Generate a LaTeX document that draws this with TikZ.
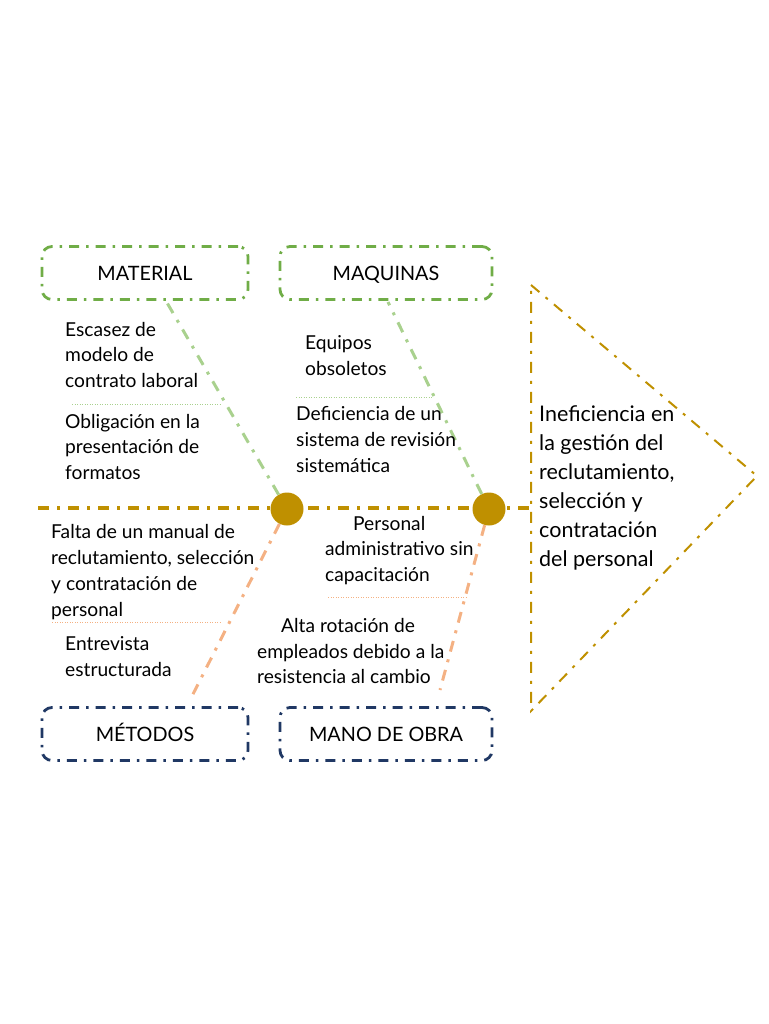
\documentclass[tikz,border=0pt]{standalone}
\usepackage{fontspec}
\setmainfont{Lato}
\definecolor{gold}{HTML}{BF9000}
\definecolor{boxgreen}{HTML}{70AD47}
\definecolor{lightgreen}{HTML}{A9D18E}
\definecolor{lightorange}{HTML}{F4B183}
\definecolor{navy}{HTML}{203864}
\begin{document}
\begin{tikzpicture}[x=1pt,y=-1pt,
  dashdot/.style={dash pattern=on 11pt off 8pt on 3pt off 8pt},
  catbox/.style={draw, line width=2.8pt, rounded corners=10pt, dash pattern=on 10pt off 7pt on 2.5pt off 7pt,
     minimum width=206pt, minimum height=53pt, inner sep=0pt, text height=14.3pt, text depth=0pt,
     font=\fontsize{19.8}{24}\selectfont},
  greenbox/.style={catbox, draw=boxgreen},
  navybox/.style={catbox, draw=navy},
  bone/.style={line width=3pt, dashdot},
  greenbone/.style={bone, draw=lightgreen},
  orangebone/.style={bone, draw=lightorange},
  sep/.style={line width=0.9pt, dash pattern=on 1pt off 1.5pt},
  cause/.style={anchor=west, align=left, inner sep=0pt, font=\fontsize{19.2}{25.8}\selectfont},
  joint/.style={circle, fill=gold, minimum size=33pt, inner sep=0pt}
]
\useasboundingbox (0,0) rectangle (768,1024);

% head triangle
\coordinate (t1) at (531,285);
\coordinate (t2) at (757,476);
\coordinate (t3) at (531,711);
\coordinate (tmid) at (531,508);
\draw[gold, line width=2pt, dashdot] (t1) -- (t2) -- (t3) -- cycle;
\node[anchor=west, align=left, inner sep=0pt, font=\fontsize{21.5}{28.9}\selectfont] (effect) at (539,488)
  {Ineficiencia en\\la gestión del\\reclutamiento,\\selección y\\contratación\\del personal};

% spine
\coordinate (spinestart) at (38,508);
\draw[gold, line width=3.5pt, dashdot] (spinestart) -- (tmid);

% category boxes
\node[greenbox] (mat) at (145,273) {MATERIAL};
\node[greenbox, minimum width=212pt] (maq) at (386,273) {MAQUINAS};
\node[navybox] (met) at (145,734) {MÉTODOS};
\node[navybox, minimum width=212pt] (mano) at (386,734) {MANO DE OBRA};

% joints
\node[joint] (c1) at (287,509) {};
\node[joint] (c2) at (489,509) {};

% bones
\coordinate (matfoot) at (166,301);
\coordinate (maqfoot) at (388,302);
\coordinate (metfoot) at (190,700);
\coordinate (manofoot) at (440,690);
\draw[greenbone] (c1) -- (matfoot);
\draw[greenbone] (c2) -- (maqfoot);
\draw[orangebone] (c1) -- (metfoot);
\draw[orangebone] (c2) -- (manofoot);

% causes
\node[cause] (ca1) at (65,355) {Escasez de\\modelo de\\contrato laboral};
\node[cause] (ca2) at (65,447) {Obligación en la\\presentación de\\formatos};
\node[cause] (cb1) at (305,355.5) {Equipos\\obsoletos};
\node[cause] (cb2) at (296,439.5) {Deficiencia de un\\sistema de revisión\\sistemática};
\node[cause] (cc1) at (51,572) {Falta de un manual de\\reclutamiento, selección\\y contratación de\\personal};
\node[cause] (cc2) at (65,656.5) {Entrevista\\estructurada};
\node[cause] (cd1) at (325,550.5) {\hspace{28pt}Personal\\administrativo sin\\capacitación};
\node[cause] (cd2) at (257,651) {\hspace{24pt}Alta rotación de\\empleados debido a la\\resistencia al cambio};

% separators
\coordinate (s1a) at (72,404); \coordinate (s1b) at (222,404);
\coordinate (s2a) at (296,397); \coordinate (s2b) at (432,397);
\coordinate (s3a) at (52,622); \coordinate (s3b) at (222,622);
\coordinate (s4a) at (328,597); \coordinate (s4b) at (467,597);
\draw[sep, lightgreen] (s1a) -- (s1b);
\draw[sep, lightgreen] (s2a) -- (s2b);
\draw[sep, lightorange] (s3a) -- (s3b);
\draw[sep, lightorange] (s4a) -- (s4b);
\end{tikzpicture}
\end{document}
